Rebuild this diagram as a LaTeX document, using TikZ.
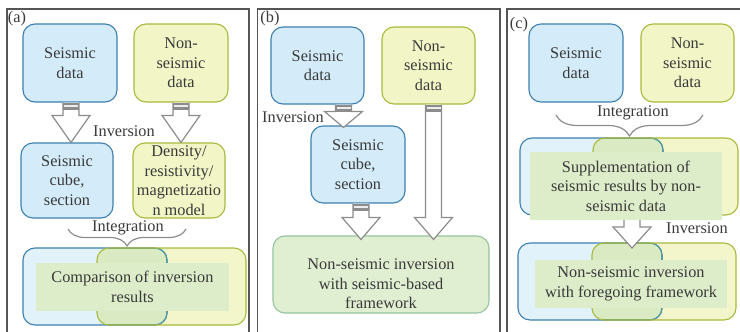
\documentclass[tikz,border=0pt]{standalone}
\usepackage{fontspec}
\setmainfont{Liberation Serif}
\usetikzlibrary{calc,decorations.pathreplacing}
\definecolor{bfill}{HTML}{D4ECF9}
\definecolor{bline}{HTML}{3C7FB1}
\definecolor{yfill}{HTML}{F2F6C6}
\definecolor{yline}{HTML}{A9B93C}
\definecolor{pblue}{HTML}{E2F2FB}
\definecolor{pyel}{HTML}{F3F6CB}
\definecolor{povl}{HTML}{DAEBC4}
\definecolor{tfill}{HTML}{DDEDC9}
\definecolor{tealline}{HTML}{4E9A9C}
\definecolor{gfill}{HTML}{E0EFD1}
\definecolor{gline}{HTML}{95C4A0}
\definecolor{txt}{HTML}{3A3A3A}
\definecolor{frame}{HTML}{555555}
\definecolor{arrgray}{HTML}{8C8C8C}
\newcommand\hollowarr[3]{%
  \draw[harrow] let \p1=(#1), \p2=(#2) in
    (\x1-8pt,\y1) -- (\x1-8pt,\y2+#3) -- (\x1-19pt,\y2+#3) -- (\x1,\y2)
    -- (\x1+19pt,\y2+#3) -- (\x1+8pt,\y2+#3) -- (\x1+8pt,\y1);
}
\newcommand\arrglyph[1]{%
  \fill[arrgray] let \p1=(#1) in (\x1-8pt,\y1) rectangle (\x1+8pt,\y1-7pt);
  \draw[white!85!gray, line width=1.2pt] let \p1=(#1) in (\x1-7pt,\y1-3.5pt) -- (\x1+7pt,\y1-3.5pt);
}
\newcommand\pairgroup[6]{%
  \fill[pblue, rounded corners=12pt] (#1,#5) rectangle (#2,#6);
  \fill[pyel, rounded corners=12pt] (#3,#5) rectangle (#4,#6);
  \begin{scope}
    \clip[rounded corners=12pt] (#1,#5) rectangle (#2,#6);
    \fill[povl, rounded corners=12pt] (#3,#5) rectangle (#4,#6);
  \end{scope}
  \draw[bline, line width=1.1pt, rounded corners=12pt] (#1,#5) rectangle (#2,#6);
  \begin{scope}
    \clip[rounded corners=12pt] (#3,#5) rectangle (#4,#6);
    \draw[tealline, line width=1.1pt, rounded corners=12pt] (#1,#5) rectangle (#2,#6);
  \end{scope}
  \draw[yline, line width=1.1pt, rounded corners=12pt] (#3,#5) rectangle (#4,#6);
}
\begin{document}
\begin{tikzpicture}[x=1pt,y=-1pt,
  font=\fontsize{16.3}{19.5}\selectfont, text=txt,
  box/.style={draw, rounded corners=12pt, line width=1.1pt, align=center, inner sep=0pt},
  sbox/.style={box, fill=bfill, draw=bline},
  nbox/.style={box, fill=yfill, draw=yline},
  tbox/.style={fill=tfill, align=center, inner sep=0pt},
  lbl/.style={inner sep=0pt},
  harrow/.style={draw=arrgray, fill=white, line width=1.2pt, line join=miter},
  brc/.style={draw=arrgray, line width=1.2pt, decorate, decoration={brace, mirror, amplitude=#1}},
  frm/.style={draw=frame, line width=1.5pt}]
\useasboundingbox (0,0) rectangle (740,332);
\begin{scope}
\clip (0,0) rectangle (740,332);
\draw[frm] (7,340) -- (7,9) -- (249,9) -- (249,340);
\draw[frm] (257.5,340) -- (257.5,9) -- (500,9) -- (500,340);
\draw[frm] (507,340) -- (507,9) -- (745,9);
\end{scope}

% ---------- panel (a)
\node[lbl] (labA) at (17,19) {(a)};
\node[sbox, minimum width=94pt, minimum height=78pt] (sdA) at (70,63) {Seismic\\data};
\node[nbox, minimum width=94pt, minimum height=78pt] (ndA) at (181,63) {Non-\\seismic\\data};
\node[sbox, minimum width=92pt, minimum height=75pt] (cubeA) at (67,180.5) {Seismic\\cube,\\section};
\node[nbox, minimum width=92pt, minimum height=75pt] (modA) at (179,180.5) {Density/\\resistivity/\\magnetizatio\\n model};
\coordinate (a1s) at ($(sdA.south)+(1,0)$);
\coordinate (a1t) at (a1s |- cubeA.north);
\coordinate (a2s) at (ndA.south);
\coordinate (a2t) at (a2s |- modA.north);
\hollowarr{a1s}{a1t}{27pt}
\hollowarr{a2s}{a2t}{27pt}
\arrglyph{a1s}
\arrglyph{a2s}
\node[lbl] (invA) at (124,131) {Inversion};
\coordinate (brA1) at (68,229);
\coordinate (brA2) at (186,229);
\draw[brc=17pt] (brA1) -- (brA2);
\node[lbl] (intA) at (128,228) {Integration};
\pairgroup{23}{167}{97}{246}{248}{325}
\node[tbox, minimum width=193pt, minimum height=48pt] (cmpA) at (132.5,287) {Comparison of inversion\\results};

% ---------- panel (b)
\node[lbl] (labB) at (270,19) {(b)};
\node[sbox, minimum width=93pt, minimum height=77pt] (sdB) at (317.5,65.5) {Seismic\\data};
\node[nbox, minimum width=93pt, minimum height=77pt] (ndB) at (428.5,65.5) {Non-\\seismic\\data};
\node[sbox, minimum width=94pt, minimum height=77pt] (cubeB) at (358,164.5) {Seismic\\cube,\\section};
\node[box, fill=gfill, draw=gline, minimum width=216pt, minimum height=77pt] (nsB) at (381,274.5) {};
\node[lbl, align=center] (nsBt) at (381,284) {Non-seismic inversion\\with seismic-based\\framework};
\coordinate (b1s) at ($(sdB.south)+(26,0)$);
\coordinate (b1t) at ($(b1s |- cubeB.north)+(0,2)$);
\coordinate (b2s) at ($(cubeB.south)+(3,0)$);
\coordinate (b2t) at ($(b2s |- nsB.north)+(0,4)$);
\coordinate (b3s) at ($(ndB.south)+(5,0)$);
\coordinate (b3t) at ($(b3s |- nsB.north)+(0,4)$);
\hollowarr{b1s}{b1t}{16pt}
\hollowarr{b2s}{b2t}{22pt}
\hollowarr{b3s}{b3t}{22pt}
\arrglyph{b1s}
\arrglyph{b2s}
\arrglyph{b3s}
\node[lbl] (invB) at (293,117) {Inversion};

% ---------- panel (c)
\node[lbl] (labC) at (519,25) {(c)};
\node[sbox, minimum width=94pt, minimum height=78pt] (sdC) at (576,63) {Seismic\\data};
\node[nbox, minimum width=93pt, minimum height=78pt] (ndC) at (687.5,63) {Non-\\seismic\\data};
\coordinate (brC1) at (556,115);
\coordinate (brC2) at (703,115);
\draw[brc=21pt] (brC1) -- (brC2);
\node[lbl] (intC) at (633,113) {Integration};
\pairgroup{520}{663}{593}{738}{138}{215}
\pairgroup{518}{662}{592}{736}{243}{320}
\coordinate (c1s) at (632,219);
\coordinate (c1t) at (632,248);
\hollowarr{c1s}{c1t}{21pt}
\node[tbox, minimum width=192pt, minimum height=68pt] (supC) at (626,186) {Supplementation of\\seismic results by non-\\seismic data};
\node[tbox, minimum width=192pt, minimum height=48pt] (nsC) at (631,284) {Non-seismic inversion\\with foregoing framework};
\node[lbl] (invC) at (697,228) {Inversion};
\end{tikzpicture}
\end{document}
